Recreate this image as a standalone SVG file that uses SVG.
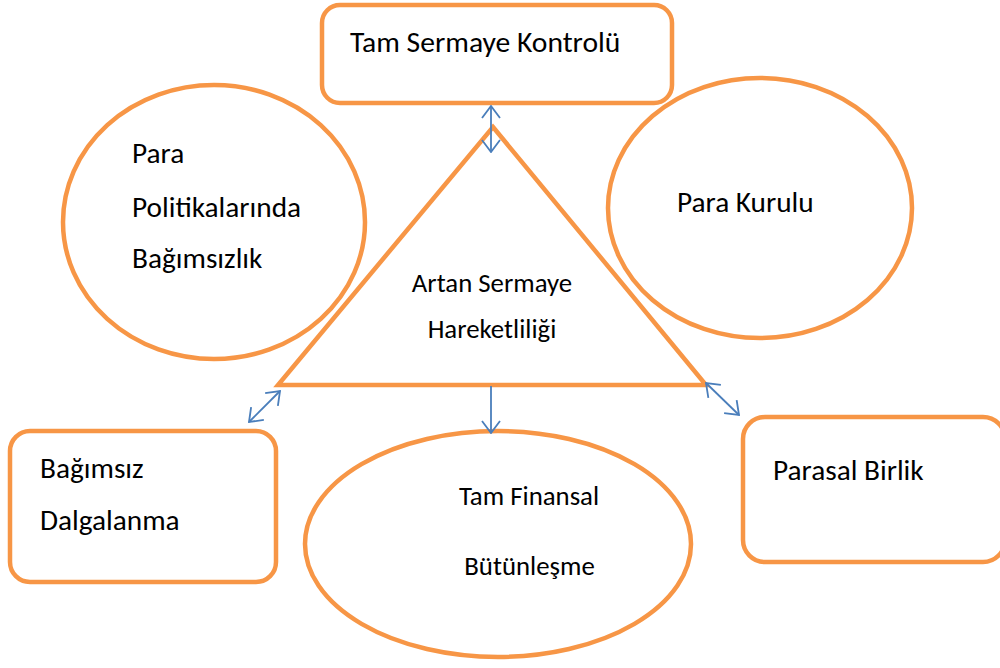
<svg xmlns="http://www.w3.org/2000/svg" width="1000" height="668" viewBox="0 0 1000 668">
<style>
.s{fill:#fff;stroke:#F79646;stroke-width:4.5}
.t{font-family:Carlito,"Open Sans","Noto Sans",sans-serif;fill:#000}
.c{stroke:#4A7EBB;stroke-width:1.8;fill:none}
</style>
<defs>
<marker id="a" viewBox="0 0 14 20" refX="13" refY="10" markerWidth="14" markerHeight="20" markerUnits="userSpaceOnUse" orient="auto-start-reverse">
<path d="M1 1 L13 10 L1 19" fill="none" stroke="#4A7EBB" stroke-width="1.8"/>
</marker>
</defs>
<g id="node-top"><rect class="s" x="322" y="5" width="350" height="98" rx="18"/><text class="t" x="350" y="52" font-size="29.6">Tam Sermaye Kontrolü</text></g>
<g id="node-left"><ellipse class="s" cx="214" cy="222" rx="151" ry="137"/><text class="t" font-size="29.3"><tspan x="132" y="163">Para</tspan><tspan x="132" y="217">Politikalarında</tspan><tspan x="132" y="268">Bağımsızlık</tspan></text></g>
<g id="node-right"><ellipse class="s" cx="760" cy="208" rx="152" ry="130"/><text class="t" x="677" y="212" font-size="29.3">Para Kurulu</text></g>
<g id="node-center"><polygon class="s" points="493,127 706,385 278,385" stroke-linejoin="miter"/><text class="t" font-size="26.8" text-anchor="middle"><tspan x="492" y="292">Artan Sermaye</tspan><tspan x="492" y="338">Hareketliliği</tspan></text></g>
<g id="node-bl"><rect class="s" x="10" y="431" width="266" height="151" rx="20"/><text class="t" font-size="29.3"><tspan x="40" y="478">Bağımsız</tspan><tspan x="40" y="530">Dalgalanma</tspan></text></g>
<g id="node-bottom"><ellipse class="s" cx="498" cy="544" rx="193" ry="113"/><text class="t" font-size="26.8" text-anchor="middle"><tspan x="529" y="505">Tam Finansal</tspan><tspan x="529.5" y="575">Bütünleşme</tspan></text></g>
<g id="node-br"><rect class="s" x="743" y="417" width="262" height="145" rx="22"/><text class="t" x="773" y="480" font-size="29.3">Parasal Birlik</text></g>
<g id="connectors">
<line class="c" x1="491" y1="106" x2="491" y2="152" marker-start="url(#a)" marker-end="url(#a)"/>
<line class="c" x1="280" y1="391" x2="249" y2="422" marker-start="url(#a)" marker-end="url(#a)"/>
<line class="c" x1="706" y1="383" x2="739" y2="415" marker-start="url(#a)" marker-end="url(#a)"/>
<line class="c" x1="491" y1="386" x2="491" y2="433" marker-end="url(#a)"/>
</g>
</svg>
